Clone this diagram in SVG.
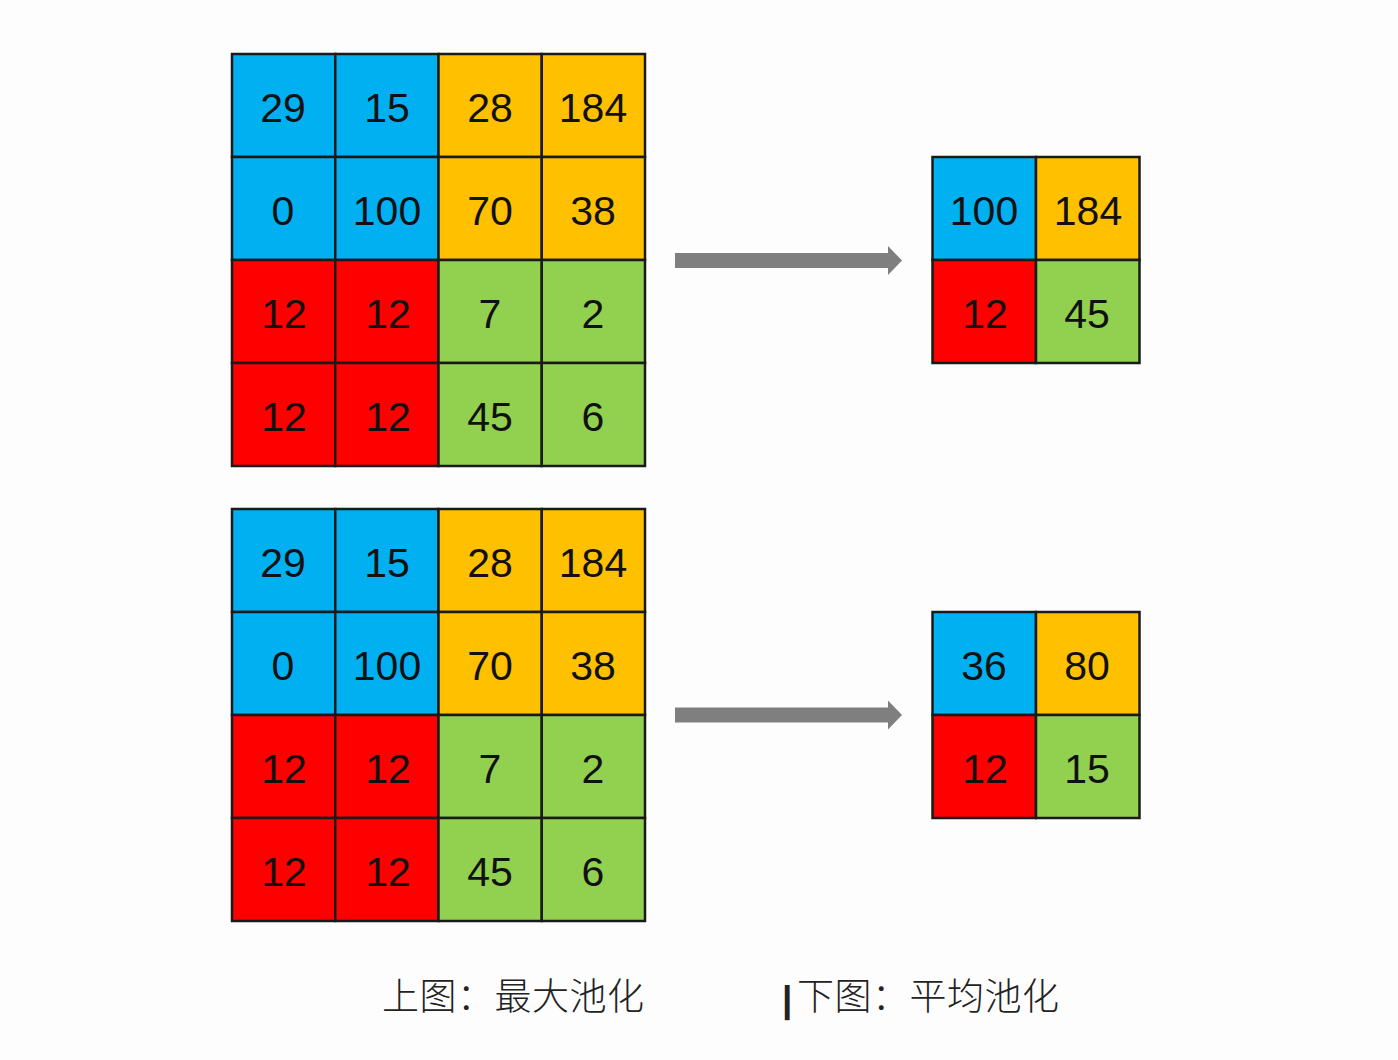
<svg xmlns="http://www.w3.org/2000/svg" width="1398" height="1060" viewBox="0 0 1398 1060">
<style>
.b{fill:#00B0F0}.o{fill:#FFC000}.r{fill:#FF0000}.g{fill:#92D050}
.b,.o,.r,.g{stroke:#1a1a1a;stroke-width:2.5}
.n{font-family:"Liberation Sans",Arial,sans-serif;font-size:41px;fill:#111;text-anchor:middle}
.cap{font-family:"Noto Sans CJK SC","Noto Sans CJK TC",sans-serif;font-size:37px;font-weight:300;fill:#222;letter-spacing:0.5px}
.bar{font-family:"Liberation Sans",Arial,sans-serif;font-weight:bold}
.arr{fill:#7f7f7f}
</style>
<defs>
<polygon id="arrow" points="675,253 888,253 888,246 902,260.5 888,275 888,268 675,268"/>
</defs>
<rect x="0" y="0" width="1398" height="1060" fill="#fdfdfe"/>

<g id="max-input">
<rect class="b" x="232" y="54" width="103.25" height="103"/>
<rect class="b" x="335.25" y="54" width="103.25" height="103"/>
<rect class="o" x="438.5" y="54" width="103.25" height="103"/>
<rect class="o" x="541.75" y="54" width="103.25" height="103"/>
<rect class="b" x="232" y="157" width="103.25" height="103"/>
<rect class="b" x="335.25" y="157" width="103.25" height="103"/>
<rect class="o" x="438.5" y="157" width="103.25" height="103"/>
<rect class="o" x="541.75" y="157" width="103.25" height="103"/>
<rect class="r" x="232" y="260" width="103.25" height="103"/>
<rect class="r" x="335.25" y="260" width="103.25" height="103"/>
<rect class="g" x="438.5" y="260" width="103.25" height="103"/>
<rect class="g" x="541.75" y="260" width="103.25" height="103"/>
<rect class="r" x="232" y="363" width="103.25" height="103"/>
<rect class="r" x="335.25" y="363" width="103.25" height="103"/>
<rect class="g" x="438.5" y="363" width="103.25" height="103"/>
<rect class="g" x="541.75" y="363" width="103.25" height="103"/>
<text class="n" x="283" y="122">29</text><text class="n" x="387" y="122">15</text><text class="n" x="490" y="122">28</text><text class="n" x="593" y="122">184</text>
<text class="n" x="283" y="225">0</text><text class="n" x="387" y="225">100</text><text class="n" x="490" y="225">70</text><text class="n" x="593" y="225">38</text>
<text class="n" x="284" y="328">12</text><text class="n" x="388" y="328">12</text><text class="n" x="490" y="328">7</text><text class="n" x="593" y="328">2</text>
<text class="n" x="284" y="431">12</text><text class="n" x="388" y="431">12</text><text class="n" x="490" y="431">45</text><text class="n" x="593" y="431">6</text>
</g>

<g id="avg-input">
<rect class="b" x="232" y="509" width="103.25" height="103"/>
<rect class="b" x="335.25" y="509" width="103.25" height="103"/>
<rect class="o" x="438.5" y="509" width="103.25" height="103"/>
<rect class="o" x="541.75" y="509" width="103.25" height="103"/>
<rect class="b" x="232" y="612" width="103.25" height="103"/>
<rect class="b" x="335.25" y="612" width="103.25" height="103"/>
<rect class="o" x="438.5" y="612" width="103.25" height="103"/>
<rect class="o" x="541.75" y="612" width="103.25" height="103"/>
<rect class="r" x="232" y="715" width="103.25" height="103"/>
<rect class="r" x="335.25" y="715" width="103.25" height="103"/>
<rect class="g" x="438.5" y="715" width="103.25" height="103"/>
<rect class="g" x="541.75" y="715" width="103.25" height="103"/>
<rect class="r" x="232" y="818" width="103.25" height="103"/>
<rect class="r" x="335.25" y="818" width="103.25" height="103"/>
<rect class="g" x="438.5" y="818" width="103.25" height="103"/>
<rect class="g" x="541.75" y="818" width="103.25" height="103"/>
<text class="n" x="283" y="577">29</text><text class="n" x="387" y="577">15</text><text class="n" x="490" y="577">28</text><text class="n" x="593" y="577">184</text>
<text class="n" x="283" y="680">0</text><text class="n" x="387" y="680">100</text><text class="n" x="490" y="680">70</text><text class="n" x="593" y="680">38</text>
<text class="n" x="284" y="783">12</text><text class="n" x="388" y="783">12</text><text class="n" x="490" y="783">7</text><text class="n" x="593" y="783">2</text>
<text class="n" x="284" y="886">12</text><text class="n" x="388" y="886">12</text><text class="n" x="490" y="886">45</text><text class="n" x="593" y="886">6</text>
</g>

<g id="max-output">
<rect class="b" x="932.5" y="157" width="103.5" height="103"/>
<rect class="o" x="1036" y="157" width="103.5" height="103"/>
<rect class="r" x="932.5" y="260" width="103.5" height="103"/>
<rect class="g" x="1036" y="260" width="103.5" height="103"/>
<text class="n" x="984" y="225">100</text><text class="n" x="1088" y="225">184</text>
<text class="n" x="985" y="328">12</text><text class="n" x="1087" y="328">45</text>
</g>

<g id="avg-output">
<rect class="b" x="932.5" y="612" width="103.5" height="103"/>
<rect class="o" x="1036" y="612" width="103.5" height="103"/>
<rect class="r" x="932.5" y="715" width="103.5" height="103"/>
<rect class="g" x="1036" y="715" width="103.5" height="103"/>
<text class="n" x="984" y="680">36</text><text class="n" x="1087" y="680">80</text>
<text class="n" x="985" y="783">12</text><text class="n" x="1087" y="783">15</text>
</g>

<g id="connectors">
<use href="#arrow" class="arr"/>
<use href="#arrow" class="arr" transform="translate(0,454.5)"/>
</g>

<g id="caption">
<text class="cap" x="382" y="1010">上图：最大池化</text>
<text class="cap" x="782" y="1012"><tspan class="bar">|</tspan><tspan x="797" y="1010">下图：平均池化</tspan></text>
</g>
</svg>
